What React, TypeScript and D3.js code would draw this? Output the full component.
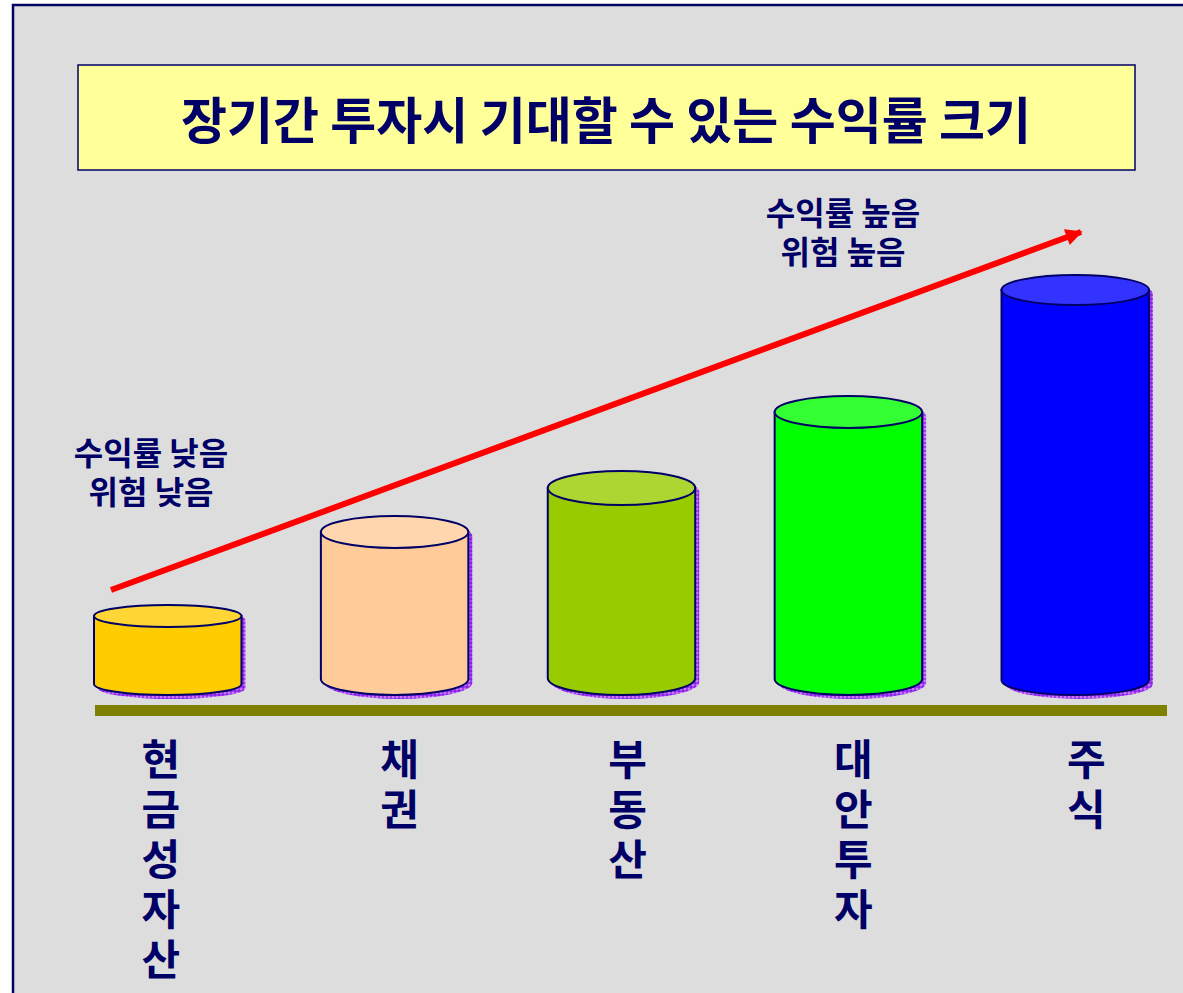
import React from "react";
import * as d3 from "d3";

const categories = ["현금성자산", "채권", "부동산", "대안투자", "주식"];
const values = [16, 37, 48, 67, 97.5];
const sideColors = ["#FFCC00", "#FFCC99", "#99CC00", "#00FF00", "#0000FF"];
const topColors = ["#FFD633", "#FFD6AD", "#ADD633", "#33FF33", "#3333FF"];
const capRadii = [11, 16, 17, 16, 15];
const title = "장기간 투자시 기대할 수 있는 수익률 크기";
const lowNote = ["수익률 낮음", "위험 낮음"];
const highNote = ["수익률 높음", "위험 높음"];

const NAVY = "#000066";
const FONT = "'Noto Sans CJK KR', 'Noto Sans', sans-serif";

export default function App() {
  const W = 1183;
  const H = 993;
  const x = d3.scaleBand<string>().domain(categories).range([94, 1149]).paddingInner(0.35).paddingOuter(0);
  const y = d3.scaleLinear().domain([0, 100]).range([680, 280]);
  const bw = x.bandwidth();

  const cyl = (i: number, c: string) => {
    const left = x(c)!;
    const right = left + bw;
    const rx = bw / 2;
    const ry = capRadii[i];
    const top = y(values[i]);
    const bot = 695 - ry;
    const body = `M${left},${top} L${left},${bot} A${rx},${ry} 0 0 0 ${right},${bot} L${right},${top} Z`;
    return (
      <g key={c}>
        <path d={body} transform="translate(4,4)" fill="url(#shadowPat)" />
        <ellipse cx={left + rx + 4} cy={top + 4} rx={rx} ry={ry} fill="url(#shadowPat)" />
        <path d={body} fill={sideColors[i]} stroke={NAVY} strokeWidth={2} />
        <ellipse cx={left + rx} cy={top} rx={rx} ry={ry} fill={topColors[i]} stroke={NAVY} strokeWidth={2} />
      </g>
    );
  };

  const labelOffsets = [-7, 5, 6, 5, 11];

  return (
    <div style={{ position: "absolute", left: 0, top: 0 }}>
      <svg width={W} height={H} style={{ display: "block", background: "#fff" }}>
        <defs>
          <pattern id="shadowPat" width="4" height="4" patternUnits="userSpaceOnUse">
            <rect width="4" height="4" fill="#A040F0" />
            <rect width="2" height="2" fill="#CC77FF" />
            <rect x="2" y="2" width="2" height="2" fill="#8822EE" />
          </pattern>
          <marker id="arrowHead" viewBox="0 0 10 10" refX="9" refY="5" markerWidth="3.4" markerHeight="2.8" orient="auto" markerUnits="strokeWidth">
            <path d="M0,0 L10,5 L0,10 Z" fill="#FF0000" />
          </marker>
        </defs>
        <rect x={13} y={5} width={1300} height={1100} fill="#DDDDDD" stroke={NAVY} strokeWidth={2.5} />
        <rect x={78} y={65} width={1057} height={105} fill="#FFFF99" stroke={NAVY} strokeWidth={1.5} />
        <text x={606} y={139} textAnchor="middle" fontFamily={FONT} fontWeight="bold" fontSize={50} fill={NAVY}>
          {title}
        </text>

        {categories.map((c, i) => cyl(i, c))}

        <rect x={95} y={705} width={1072} height={11} fill="#808000" />

        <line x1={111} y1={590} x2={1081} y2={232} stroke="#FF0000" strokeWidth={6} markerEnd="url(#arrowHead)" />

        <text textAnchor="middle" fontFamily={FONT} fontWeight="bold" fontSize={32} fill={NAVY}>
          {lowNote.map((t, k) => (
            <tspan key={t} x={151} y={465 + k * 39}>
              {t}
            </tspan>
          ))}
        </text>
        <text textAnchor="middle" fontFamily={FONT} fontWeight="bold" fontSize={32} fill={NAVY}>
          {highNote.map((t, k) => (
            <tspan key={t} x={843} y={225 + k * 39}>
              {t}
            </tspan>
          ))}
        </text>

        {categories.map((c, i) => (
          <text key={c} textAnchor="middle" fontFamily={FONT} fontWeight="bold" fontSize={42} fill={NAVY}>
            {Array.from(c).map((ch, k) => (
              <tspan key={k} x={x(c)! + bw / 2 + labelOffsets[i]} y={775 + k * 50}>
                {ch}
              </tspan>
            ))}
          </text>
        ))}
      </svg>
    </div>
  );
}
